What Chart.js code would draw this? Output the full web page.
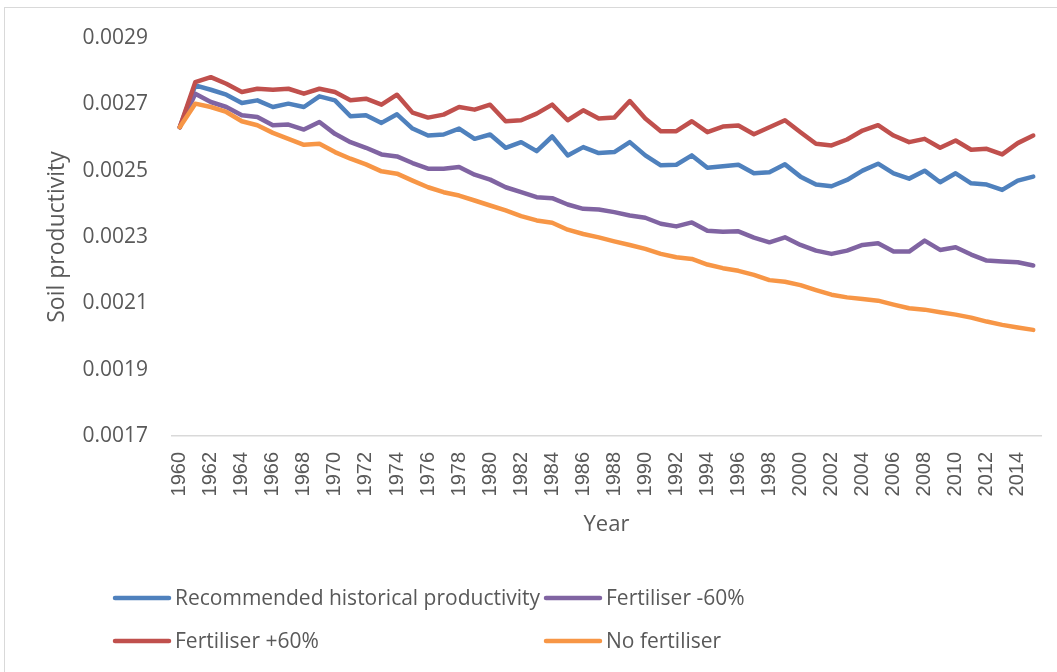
<!DOCTYPE html>
<html>
<head>
<meta charset="utf-8">
<script src="https://cdn.jsdelivr.net/npm/chart.js@4"></script>
<style>
  body { margin: 0; background: #fff; overflow: hidden; }
  #frame { position: absolute; left: 4px; top: 7px; width: 1100px; height: 700px; border: 1px solid #d9d9d9; }
  #holder { position: absolute; left: 0; top: 0; width: 1057px; height: 672px; }
</style>
</head>
<body>
<div id="frame"></div>
<div id="holder"><canvas id="chart-area"></canvas></div>

<script>
    var years = [];
    for (var y = 1960; y <= 2015; y++) years.push(String(y));

    var yTicks = [0.0017, 0.0019, 0.0021, 0.0023, 0.0025, 0.0027, 0.0029];

    var recommended = [
        0.002631, 0.002757, 0.002744, 0.002729, 0.002704, 0.002712, 0.002692, 0.002702, 0.002692, 0.002724,
        0.002712, 0.002664, 0.002667, 0.002644, 0.002670, 0.002627, 0.002606, 0.002609, 0.002627, 0.002596,
        0.002609, 0.002569, 0.002586, 0.002559, 0.002603, 0.002546, 0.002571, 0.002553, 0.002556, 0.002586,
        0.002546, 0.002516, 0.002518, 0.002546, 0.002509, 0.002513, 0.002518, 0.002492, 0.002495, 0.002519,
        0.002482, 0.002458, 0.002453, 0.002472, 0.002500, 0.002521, 0.002492, 0.002476, 0.002500, 0.002465,
        0.002492, 0.002462, 0.002458, 0.002442, 0.002470, 0.002482
    ];
    var fertMinus60 = [
        0.002631, 0.002732, 0.002707, 0.002692, 0.002667, 0.002662, 0.002637, 0.002639, 0.002624, 0.002647,
        0.002611, 0.002586, 0.002569, 0.002549, 0.002543, 0.002523, 0.002506, 0.002506, 0.002511, 0.002488,
        0.002473, 0.002450, 0.002435, 0.002420, 0.002417, 0.002398, 0.002385, 0.002383, 0.002375, 0.002365,
        0.002358, 0.002340, 0.002332, 0.002344, 0.002319, 0.002316, 0.002317, 0.002298, 0.002284, 0.002299,
        0.002276, 0.002259, 0.002249, 0.002259, 0.002276, 0.002281, 0.002256, 0.002256, 0.002289, 0.002261,
        0.002269, 0.002247, 0.002229, 0.002226, 0.002224, 0.002214
    ];
    var fertPlus60 = [
        0.002631, 0.002767, 0.002782, 0.002762, 0.002737, 0.002747, 0.002744, 0.002747, 0.002732, 0.002747,
        0.002737, 0.002712, 0.002717, 0.002699, 0.002729, 0.002675, 0.002660, 0.002669, 0.002692, 0.002684,
        0.002699, 0.002649, 0.002652, 0.002672, 0.002699, 0.002652, 0.002682, 0.002657, 0.002660, 0.002710,
        0.002657, 0.002619, 0.002619, 0.002649, 0.002616, 0.002633, 0.002636, 0.002610, 0.002631, 0.002652,
        0.002616, 0.002581, 0.002576, 0.002594, 0.002621, 0.002637, 0.002606, 0.002586, 0.002596, 0.002569,
        0.002591, 0.002563, 0.002566, 0.002549, 0.002583, 0.002606
    ];
    var noFert = [
        0.002631, 0.002702, 0.002692, 0.002677, 0.002649, 0.002637, 0.002614, 0.002596, 0.002578, 0.002581,
        0.002556, 0.002536, 0.002519, 0.002498, 0.002491, 0.002470, 0.002450, 0.002435, 0.002425, 0.002410,
        0.002395, 0.002380, 0.002363, 0.002350, 0.002343, 0.002322, 0.002309, 0.002299, 0.002287, 0.002276,
        0.002264, 0.002249, 0.002239, 0.002234, 0.002217, 0.002206, 0.002198, 0.002186, 0.002170, 0.002165,
        0.002155, 0.002140, 0.002126, 0.002118, 0.002113, 0.002108, 0.002096, 0.002085, 0.002081, 0.002073,
        0.002066, 0.002057, 0.002045, 0.002035, 0.002027, 0.002020
    ];

    var textCol = '#595959';

    var line = function(label, data, color, order) {
        return {
            label: label, data: data, borderColor: color, backgroundColor: color,
            borderWidth: 4.5, pointRadius: 0, tension: 0, fill: false,
            borderCapStyle: 'round', borderJoinStyle: 'round', order: order
        };
    };

    // legend laid out as a 2x2 grid like the original
    var gridLegend = {
        id: 'gridLegend',
        afterDraw: function(chart) {
            var ctx = chart.ctx, a = chart.chartArea;
            var cols = [a.left - 57, a.left + 374];
            var rows = [a.bottom + 162, a.bottom + 205];
            ctx.save();
            ctx.font = '21px "Open Sans"';
            ctx.textBaseline = 'middle';
            ctx.textAlign = 'left';
            chart.data.datasets.forEach(function(ds, i) {
                var x = cols[i % 2], y = rows[Math.floor(i / 2)];
                ctx.strokeStyle = ds.borderColor;
                ctx.lineWidth = 4.5;
                ctx.lineCap = 'round';
                ctx.beginPath();
                ctx.moveTo(x, y);
                ctx.lineTo(x + 54, y);
                ctx.stroke();
                ctx.fillStyle = textCol;
                ctx.fillText(ds.label, x + 60, y + 1);
            });
            ctx.restore();
        }
    };

    var config = {
        type: 'line',
        data: {
            labels: years,
            datasets: [
                line('Recommended historical productivity', recommended, '#4F81BD', 3),
                line('Fertiliser -60%', fertMinus60, '#8064A2', 2),
                line('Fertiliser +60%', fertPlus60, '#C0504D', 1),
                line('No fertiliser', noFert, '#F79646', 0)
            ]
        },
        options: {
            responsive: true,
            maintainAspectRatio: false,
            animation: false,
            layout: { padding: { left: 0, top: 38, right: 16, bottom: 126 } },
            plugins: { legend: { display: false }, tooltip: { enabled: false } },
            scales: {
                x: {
                    offset: true,
                    grid: { display: false, drawTicks: false },
                    border: { display: true, color: '#d9d9d9', width: 1.5 },
                    ticks: {
                        autoSkip: false, minRotation: 90, maxRotation: 90, padding: 16,
                        color: textCol, font: { family: '"Liberation Sans", Arial', size: 20 },
                        callback: function(v, i) { return i % 2 === 0 ? years[i] : ''; }
                    },
                    title: { display: true, text: 'Year', color: textCol,
                             font: { family: '"Open Sans"', size: 22 }, padding: { bottom: 8 } },
                    afterFit: function(s) { s.height = 110; s.paddingLeft = 0; s.paddingRight = 0; }
                },
                y: {
                    min: 0.0017, max: 0.0029,
                    grid: { display: false, drawTicks: false },
                    border: { display: false },
                    afterBuildTicks: function(s) { s.ticks = yTicks.map(function(v) { return { value: v }; }); },
                    ticks: {
                        padding: 24, color: textCol, font: { family: '"Open Sans"', size: 21 },
                        callback: function(v) { return v.toFixed(4); }
                    },
                    title: { display: true, text: 'Soil productivity', color: textCol,
                             font: { family: '"Open Sans"', size: 23 }, padding: { top: 44 } },
                    afterFit: function(s) { s.width = 172; }
                }
            }
        },
        plugins: [gridLegend]
    };

    var ctx = document.getElementById("chart-area").getContext("2d");
    window.myLine = new Chart(ctx, config);
</script>
</body>
</html>
